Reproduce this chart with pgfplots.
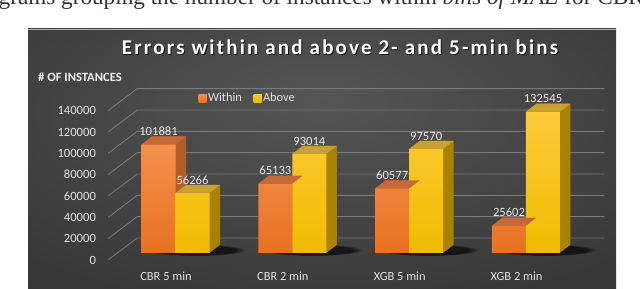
\documentclass[border=0pt]{standalone}
\usepackage{pgfplots}
\pgfplotsset{compat=1.18}
\usepackage{pgfplotstable}
\usetikzlibrary{fadings}
\usepackage{fontspec}
\setmainfont{Carlito}
\newfontfamily\capfont{Liberation Serif}

\definecolor{gridc}{HTML}{7A7A7A}
\definecolor{wFrontT}{HTML}{F4904F}
\definecolor{wFrontB}{HTML}{E8711F}
\definecolor{wSide}{HTML}{B35E26}
\definecolor{wTop}{HTML}{C46A38}
\definecolor{wLeg}{HTML}{ED7D31}
\definecolor{aFrontT}{HTML}{FFCA3A}
\definecolor{aFrontB}{HTML}{EFBC00}
\definecolor{aSide}{HTML}{A98300}
\definecolor{aTop}{HTML}{C9A032}
\definecolor{aLeg}{HTML}{FFC000}
\definecolor{txt}{HTML}{E4E4E4}
\definecolor{pin}{HTML}{555555}
\definecolor{pmid}{HTML}{3D3D3D}
\definecolor{pout}{HTML}{222222}

\pgfdeclareradialshading{panelshade}{\pgfpoint{0bp}{12bp}}{color(0bp)=(pin); color(30bp)=(pmid); color(65bp)=(pout); color(90bp)=(pout)}

\pgfdeclareplotmark{topL}{%
  \pgfpathmoveto{\pgfpoint{-34pt}{0pt}}%
  \pgfpathlineto{\pgfpoint{0pt}{0pt}}%
  \pgfpathlineto{\pgfpoint{10.5pt}{8pt}}%
  \pgfpathlineto{\pgfpoint{-23.5pt}{8pt}}%
  \pgfpathclose\pgfusepathqfill}
\pgfdeclareplotmark{topR}{%
  \pgfpathmoveto{\pgfpoint{0pt}{0pt}}%
  \pgfpathlineto{\pgfpoint{34pt}{0pt}}%
  \pgfpathlineto{\pgfpoint{44.5pt}{8pt}}%
  \pgfpathlineto{\pgfpoint{10.5pt}{8pt}}%
  \pgfpathclose\pgfusepathqfill}

\pgfplotstableread{
x within above
0 101881 56266
1 65133 93014
2 60577 97570
3 25602 132545
}\data

\begin{document}
\begin{tikzpicture}[x=1pt,y=1pt]
\useasboundingbox (0,0) rectangle (640,289);
\clip (0,0) rectangle (640,289);
\fill[white] (0,0) rectangle (640,289);
% caption fragment
\node[anchor=base west, inner sep=0pt, text=black!80] at (-1.5,284)
  {\capfont\fontsize{23.2}{23}\selectfont grams grouping the number of instances within \textit{bins of MAE} for CBR};
% panel
\shade[shading=panelshade] (28,0) rectangle (616,260);
\draw[gray!60, line width=0.8pt] (28,260) -- (616,260);
% title
\node[anchor=base, inner sep=0pt, text=black, opacity=0.7] at (341,233)
  {\fontsize{21}{21}\selectfont\bfseries\addfontfeatures{LetterSpace=10.5}Errors within and above 2- and 5-min bins};
\node[anchor=base, inner sep=0pt, text=white] at (340,234)
  {\fontsize{21}{21}\selectfont\bfseries\addfontfeatures{LetterSpace=10.5}Errors within and above 2- and 5-min bins};
\node[anchor=base west, inner sep=0pt, text=white!95!black] at (38,207)
  {\fontsize{12.6}{13}\selectfont\bfseries \# OF INSTANCES};

\begin{axis}[
  at={(117.1pt,36pt)}, anchor=south west,
  scale only axis, width=467.3pt, height=149.3pt,
  xmin=-0.5, xmax=3.5, ymin=0, ymax=140000,
  clip=false,
  axis line style={draw=none},
  major tick length=0pt,
  xtick=data, xticklabels={CBR 5 min, CBR 2 min, XGB 5 min, XGB 2 min},
  ytick={0,20000,...,140000},
  scaled y ticks=false,
  yticklabel={\pgfmathprintnumber[fixed,precision=0,1000 sep={}]{\tick}},
  /pgf/number format/assume math mode=true,
  ticklabel style={font=\fontsize{12.4}{12}\selectfont, text=txt},
  yticklabel style={anchor=east, inner sep=0pt, xshift=-21pt, yshift=-7pt, font=\fontsize{12.6}{12}\selectfont},
  xticklabel style={anchor=center, inner sep=0pt, xshift=-9.5pt, yshift=-23.7pt},
  legend style={at={(0.279,1.038)}, anchor=center, legend columns=2,
    draw=none, fill=none, text=txt, font=\fontsize{12.4}{12}\selectfont,
    inner sep=0pt, /tikz/every even column/.append style={column sep=10pt},
    nodes={inner sep=1.5pt}},
  legend cell align=left,
]
% 3D grid: slanted side wall lines and back wall lines
\pgfplotsinvokeforeach{0,20000,40000,60000,80000,100000,120000,140000}{
  \draw[gridc, line width=0.9pt]
    ([xshift=-9pt,yshift=-7pt]axis cs:-0.5,#1) --
    ([xshift=20pt,yshift=15pt]axis cs:-0.5,#1) --
    ([xshift=20pt,yshift=15pt]axis cs:3.5,#1);
}
% soft floor shadows under each pair of bars
\pgfplotsinvokeforeach{0,1,2,3}{
  \fill[black, opacity=0.65, path fading=circle with fuzzy edge 20 percent]
    ([xshift=20pt,yshift=3pt]axis cs:#1,0) ellipse [x radius=50pt, y radius=6pt];
}
% Within: side extrusion
\pgfplotsinvokeforeach{21,20,...,1}{
  \addplot[ybar, bar width=34pt, bar shift=-17pt, fill=wSide, draw=none,
    xshift=#1*0.5pt, yshift=#1*0.381pt, forget plot]
    table[x=x,y=within]{\data};
}
\addplot[only marks, mark=topL, color=wTop, fill=wTop, forget plot]
  table[x=x,y=within]{\data};
\addplot[ybar, bar width=34pt, bar shift=-17pt, draw=none,
  top color=wFrontT, bottom color=wFrontB,
  point meta=explicit symbolic, nodes near coords,
  nodes near coords style={font=\fontsize{12.6}{12}\selectfont, text=white!92!black, anchor=south, inner sep=0pt, xshift=-17pt, yshift=8.5pt},
  legend image code/.code={\fill[wLeg] (0pt,-4pt) rectangle (8pt,4pt);}]
  table[x=x,y=within,meta=within]{\data};
\addlegendentry{Within}
% Above: side extrusion
\pgfplotsinvokeforeach{21,20,...,1}{
  \addplot[ybar, bar width=34pt, bar shift=17pt, fill=aSide, draw=none,
    xshift=#1*0.5pt, yshift=#1*0.381pt, forget plot]
    table[x=x,y=above]{\data};
}
\addplot[only marks, mark=topR, color=aTop, fill=aTop, forget plot]
  table[x=x,y=above]{\data};
\addplot[ybar, bar width=34pt, bar shift=17pt, draw=none,
  top color=aFrontT, bottom color=aFrontB,
  point meta=explicit symbolic, nodes near coords,
  nodes near coords style={font=\fontsize{12.6}{12}\selectfont, text=white!92!black, anchor=south, inner sep=0pt, xshift=17pt, yshift=8.5pt},
  legend image code/.code={\fill[aLeg] (0pt,-4pt) rectangle (8pt,4pt);}]
  table[x=x,y=above,meta=above]{\data};
\addlegendentry{Above}
\end{axis}
\end{tikzpicture}
\end{document}
